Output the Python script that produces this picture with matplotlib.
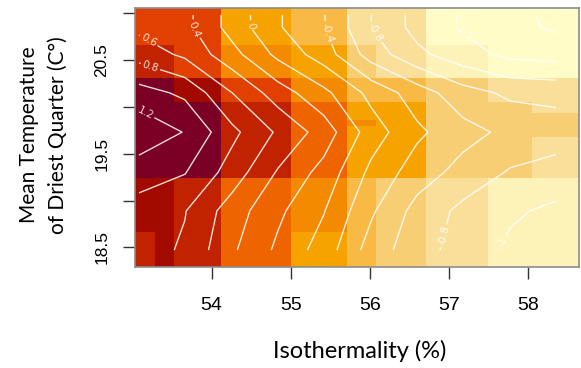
import numpy as np
import matplotlib
matplotlib.use("Agg")
import matplotlib.pyplot as plt
from matplotlib.colors import ListedColormap

# Image cells (irregular grid), edges in data units
X_EDGES = [53.03, 53.28, 53.52, 54.12, 55.00, 55.71, 56.08, 56.71, 57.50, 58.05, 58.65]
Y_EDGES = [21.056, 20.66, 20.31, 20.05, 19.93, 19.86, 19.80, 19.68, 19.24, 18.66, 18.29]

# Colour class of every cell, rows from top to bottom
CELL_CLASS = [
    [3, 3, 3, 6, 7, 9, 9, 11, 11, 11],
    [2, 2, 3, 5, 6, 8, 9, 10, 11, 11],
    [0, 0, 1, 3, 5, 7, 7, 8, 9, 9],
    [0, 0, 0, 2, 4, 6, 6, 8, 8, 9],
    [0, 0, 0, 2, 4, 6, 6, 8, 8, 8],
    [0, 0, 0, 2, 4, 5, 6, 8, 8, 8],
    [0, 0, 0, 2, 4, 6, 6, 8, 8, 8],
    [0, 0, 0, 2, 4, 6, 6, 8, 8, 9],
    [1, 1, 2, 4, 5, 7, 8, 9, 10, 10],
    [2, 1, 2, 4, 6, 7, 8, 9, 10, 10],
]

PALETTE = ["#7a0026", "#a20a00", "#c12200", "#e04000", "#ee6500", "#f38a00",
           "#f6a300", "#f8ba45", "#f8ce75", "#fadf9b", "#fdf2b8", "#fffcc8"]

# Contour surface (partial effect), rows from top to bottom
CONT_X = [53.08, 53.66, 54.26, 54.84, 55.42, 56.02, 56.60, 57.18, 57.78, 58.36]
CONT_Y = [20.98, 20.85, 20.56, 20.15, 19.73, 19.30, 18.89, 18.47]
CONT_Z = [
    [0.55, 0.46, 0.12, -0.18, -0.39, -0.80, -1.07, -1.22, -1.34, -1.45],
    [0.55, 0.46, 0.12, -0.18, -0.39, -0.80, -1.07, -1.22, -1.34, -1.43],
    [0.72, 0.56, 0.27, -0.05, -0.30, -0.69, -0.95, -1.12, -1.25, -1.28],
    [1.08, 0.96, 0.60, 0.30, 0.05, -0.26, -0.50, -0.72, -0.84, -0.86],
    [1.36, 1.19, 0.85, 0.57, 0.31, -0.10, -0.36, -0.53, -0.65, -0.70],
    [1.08, 1.01, 0.71, 0.38, 0.13, -0.25, -0.50, -0.67, -0.82, -0.88],
    [0.93, 0.81, 0.50, 0.24, 0.01, -0.37, -0.67, -0.85, -0.97, -1.04],
    [0.90, 0.77, 0.43, 0.16, -0.09, -0.49, -0.72, -0.88, -1.04, -1.12],
]
LEVELS = [-1.4, -1.2, -1.0, -0.8, -0.6, -0.4, -0.2, 0.0, 0.2, 0.4, 0.6, 0.8, 1.0, 1.2]
# where the labels sit (on the lines 0.6, 0.8, 1.2, 0.4, 0, -0.4, -0.8, -1.2, -0.8, -1)
LABEL_POS = [(53.21, 20.72), (53.21, 20.39), (53.21, 20.02), (53.80, 20.84),
             (54.50, 20.87), (55.45, 20.79), (56.02, 20.77), (57.12, 20.72),
             (56.90, 18.63), (57.64, 18.57)]

X_TICKS = [54, 55, 56, 57, 58]
Y_TICKS = [18.5, 19, 19.5, 20, 20.5, 21]
Y_TICKLABELS = ["18.5", "", "19.5", "", "20.5", ""]


def level_fmt(v):
    v = round(v, 1)
    return "0" if v == 0 else f"{v:g}"


fig = plt.figure(figsize=(5.81, 3.68), dpi=100)
ax = fig.add_axes([0.2324, 0.2745, 0.7642, 0.7038])
ax.set_xlim(X_EDGES[0], X_EDGES[-1])
ax.set_ylim(Y_EDGES[-1], Y_EDGES[0])

cmap = ListedColormap(PALETTE)
ax.pcolormesh(X_EDGES, Y_EDGES, np.array(CELL_CLASS), cmap=cmap,
              vmin=-0.5, vmax=len(PALETTE) - 0.5, shading="flat")

cs = ax.contour(CONT_X, CONT_Y, np.array(CONT_Z), levels=LEVELS,
                colors="white", linewidths=1.0, linestyles="solid", alpha=0.85)
ax.set_xlim(X_EDGES[0], X_EDGES[-1])
ax.set_ylim(Y_EDGES[-1], Y_EDGES[0])
ax.clabel(cs, manual=LABEL_POS, inline=True, inline_spacing=2,
          fontsize=7.5, colors="white", fmt=level_fmt)

ax.set_xticks(X_TICKS)
ax.set_xticklabels([str(t) for t in X_TICKS], fontsize=14, family="Liberation Sans")
ax.set_yticks(Y_TICKS)
ax.set_yticklabels(Y_TICKLABELS, fontsize=12.5, family="Liberation Sans", rotation=90, va="center")
ax.tick_params(direction="out", length=8.6, width=1.0, color="#333333")
ax.tick_params(axis="x", pad=13)
ax.tick_params(axis="y", pad=10)

for sp in ax.spines.values():
    sp.set_color("#8c8c8c")
    sp.set_linewidth(1.2)

fig.text(360 / 581, 1 - 351 / 368, "Isothermality (%)", ha="center", va="center",
         fontsize=17, family="Lato")
fig.text(43 / 581, 1 - 135 / 368, "Mean Temperature\nof Driest Quarter (C\u00b0)",
         ha="center", va="center", rotation=90, multialignment="center",
         fontsize=15, family="Lato", linespacing=1.55)

fig.savefig("out.png", dpi=100)
